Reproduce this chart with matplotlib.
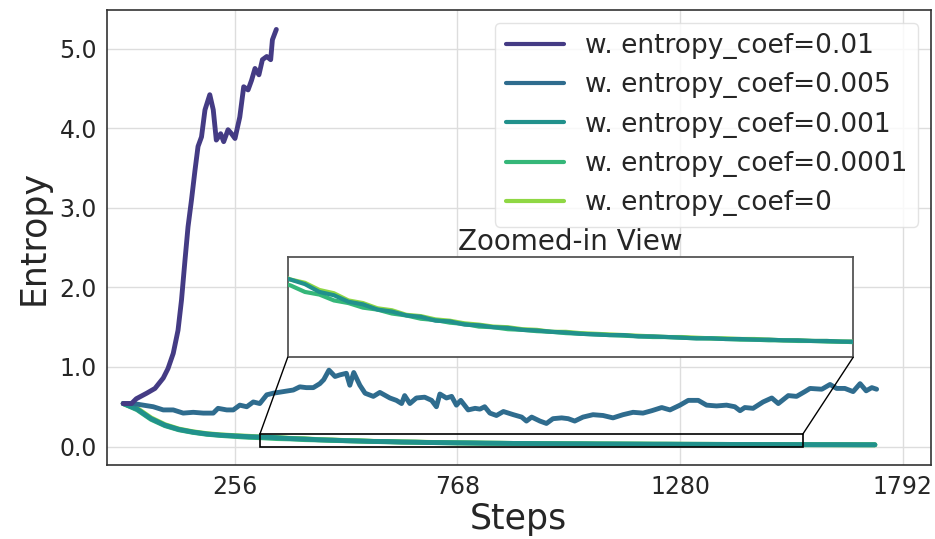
import matplotlib
matplotlib.use('Agg')
import matplotlib.pyplot as plt
from matplotlib.patches import Rectangle, ConnectionPatch

# entropy curves logged during training, one run per entropy coefficient
labels = ['w. entropy_coef=0.01', 'w. entropy_coef=0.005', 'w. entropy_coef=0.001',
          'w. entropy_coef=0.0001', 'w. entropy_coef=0']
colors = ['#443b84', '#2f6c8e', '#21918c', '#35b779', '#8fd744']

steps_001 = [0, 19, 30, 54, 73, 92, 103, 115, 126, 134, 142, 149, 157, 165, 172, 180, 188, 199,
             207, 214, 224, 231, 241, 249, 257, 268, 277, 287, 295, 303, 312, 320, 330, 339, 343, 352]
ent_001 = [0.54, 0.54, 0.60, 0.67, 0.73, 0.86, 0.98, 1.17, 1.46, 1.84, 2.34, 2.76, 3.10, 3.47, 3.77,
           3.89, 4.23, 4.42, 4.23, 3.85, 3.93, 3.83, 3.98, 3.93, 3.87, 4.14, 4.52, 4.48, 4.60, 4.75,
           4.67, 4.86, 4.90, 4.86, 5.11, 5.24]

steps_0005 = [0, 23, 46, 69, 92, 115, 138, 161, 184, 207, 218, 238, 253, 268, 284, 299, 314, 330,
              345, 368, 391, 406, 421, 437, 452, 461, 473, 487, 498, 513, 521, 530, 544, 556, 575,
              590, 613, 628, 640, 647, 659, 674, 693, 709, 720, 728, 743, 755, 766, 776, 793, 809,
              820, 831, 843, 858, 874, 897, 916, 927, 939, 958, 973, 988, 1008, 1023, 1038, 1057,
              1080, 1103, 1126, 1149, 1172, 1195, 1215, 1238, 1257, 1280, 1299, 1322, 1341, 1364,
              1387, 1406, 1418, 1429, 1448, 1471, 1491, 1506, 1529, 1548, 1567, 1579, 1606, 1625,
              1640, 1659, 1678, 1694, 1708, 1721, 1732]
ent_0005 = [0.54, 0.54, 0.52, 0.50, 0.46, 0.46, 0.42, 0.43, 0.42, 0.42, 0.48, 0.46, 0.46, 0.52,
            0.50, 0.56, 0.54, 0.65, 0.67, 0.69, 0.71, 0.75, 0.74, 0.74, 0.79, 0.84, 0.96, 0.88,
            0.90, 0.92, 0.77, 0.93, 0.77, 0.67, 0.63, 0.68, 0.61, 0.58, 0.54, 0.64, 0.54, 0.61,
            0.62, 0.58, 0.50, 0.66, 0.61, 0.63, 0.52, 0.58, 0.46, 0.48, 0.47, 0.50, 0.42, 0.39,
            0.44, 0.40, 0.37, 0.32, 0.37, 0.32, 0.29, 0.35, 0.36, 0.35, 0.32, 0.37, 0.40, 0.39,
            0.36, 0.40, 0.43, 0.42, 0.45, 0.49, 0.46, 0.52, 0.58, 0.58, 0.52, 0.51, 0.52, 0.50,
            0.45, 0.49, 0.48, 0.56, 0.61, 0.54, 0.64, 0.63, 0.69, 0.73, 0.72, 0.78, 0.73, 0.73,
            0.69, 0.79, 0.70, 0.74, 0.72]

# the three small coefficients share the same logging steps
steps_low = list(range(0, 1729, 32))
ent_0001 = [0.540, 0.470, 0.350, 0.268, 0.215, 0.182, 0.158, 0.143, 0.134, 0.124, 0.119, 0.112,
            0.100, 0.095, 0.085, 0.081, 0.073, 0.070, 0.064, 0.062, 0.056, 0.055, 0.050, 0.049,
            0.046, 0.045, 0.042, 0.041, 0.039, 0.038, 0.036, 0.035, 0.034, 0.034, 0.032, 0.032,
            0.031, 0.030, 0.029, 0.029, 0.028, 0.028, 0.027, 0.027, 0.026, 0.026, 0.025, 0.025,
            0.024, 0.024, 0.023, 0.023, 0.023, 0.022, 0.022]
ent_00001 = [0.540, 0.462, 0.342, 0.262, 0.210, 0.178, 0.154, 0.139, 0.127, 0.116, 0.110, 0.100,
             0.096, 0.087, 0.083, 0.076, 0.073, 0.067, 0.064, 0.059, 0.057, 0.053, 0.051, 0.047,
             0.046, 0.043, 0.042, 0.040, 0.039, 0.037, 0.036, 0.035, 0.034, 0.033, 0.032, 0.031,
             0.031, 0.030, 0.029, 0.029, 0.028, 0.027, 0.027, 0.026, 0.026, 0.025, 0.025, 0.024,
             0.024, 0.023, 0.023, 0.023, 0.022, 0.022, 0.022]
ent_0 = [0.540, 0.480, 0.360, 0.275, 0.220, 0.186, 0.162, 0.147, 0.137, 0.129, 0.119, 0.114,
         0.103, 0.098, 0.087, 0.083, 0.075, 0.072, 0.065, 0.063, 0.058, 0.056, 0.052, 0.050,
         0.047, 0.046, 0.043, 0.042, 0.039, 0.039, 0.037, 0.036, 0.035, 0.034, 0.033, 0.032,
         0.031, 0.031, 0.030, 0.029, 0.029, 0.028, 0.028, 0.027, 0.026, 0.026, 0.025, 0.025,
         0.024, 0.024, 0.024, 0.023, 0.023, 0.023, 0.022]

x_ticks = [256, 768, 1280, 1792]
y_ticks = [0.0, 1.0, 2.0, 3.0, 4.0, 5.0]

# zoom window on the converged tail
zoom_x = (314, 1562)
zoom_y = (0.0, 0.153)

series = [(steps_001, ent_001), (steps_0005, ent_0005), (steps_low, ent_0001),
          (steps_low, ent_00001), (steps_low, ent_0)]

plt.rcParams['font.family'] = 'DejaVu Sans'
plt.rcParams['text.color'] = '#262626'
plt.rcParams['axes.labelcolor'] = '#262626'
plt.rcParams['xtick.color'] = '#262626'
plt.rcParams['ytick.color'] = '#262626'

fig = plt.figure(figsize=(9.35, 5.39), dpi=100)
ax = fig.add_axes([0.1141, 0.1367, 0.8816, 0.8456])

for i, (x, y) in enumerate(series):
    ax.plot(x, y, color=colors[i], lw=3.5, label=labels[i], zorder=10 - i,
            solid_capstyle='round')

ax.set_xlim(-38, 1857)
ax.set_ylim(-0.236, 5.49)
ax.set_xticks(x_ticks)
ax.set_yticks(y_ticks)
ax.set_yticklabels(['{:.1f}'.format(v) for v in y_ticks])
ax.tick_params(axis='both', length=0, labelsize=17, pad=7)
ax.grid(True, color='#dddddd', lw=1.0)
ax.set_axisbelow(True)
for sp in ax.spines.values():
    sp.set_color('#333333')
    sp.set_linewidth(1.2)

ax.set_xlabel('Steps', fontsize=25, labelpad=2)
ax.set_ylabel('Entropy', fontsize=25, labelpad=6)

leg = ax.legend(loc='upper right', fontsize=19, framealpha=0.8, edgecolor='#dddddd',
                handlelength=2.2, borderaxespad=0.5, labelspacing=0.5)
leg.get_frame().set_linewidth(1.0)
for h in leg.get_lines():
    h.set_linewidth(3.0)

# inset with the tail of the low-coefficient runs
axins = ax.inset_axes([0.2196, 0.237, 0.686, 0.2194])
for i, (x, y) in enumerate(series):
    axins.plot(x, y, color=colors[i], lw=3, zorder=10 - i)
axins.set_xlim(*zoom_x)
axins.set_ylim(*zoom_y)
axins.set_xticks([])
axins.set_yticks([])
axins.grid(False)
axins.set_facecolor('white')
for sp in axins.spines.values():
    sp.set_color('#555555')
    sp.set_linewidth(1.3)
axins.set_title('Zoomed-in View', fontsize=20, pad=5)

rect = Rectangle((zoom_x[0], zoom_y[0]), zoom_x[1] - zoom_x[0], zoom_y[1] - zoom_y[0],
                 fill=False, edgecolor='black', lw=1.2, zorder=20)
ax.add_patch(rect)

for xa, xb in [(0, zoom_x[0]), (1, zoom_x[1])]:
    con = ConnectionPatch(xyA=(xa, 0), coordsA=axins.transAxes,
                          xyB=(xb, zoom_y[1]), coordsB=ax.transData,
                          color='black', lw=1.0, zorder=20)
    fig.add_artist(con)

plt.savefig('out.png', dpi=100)
